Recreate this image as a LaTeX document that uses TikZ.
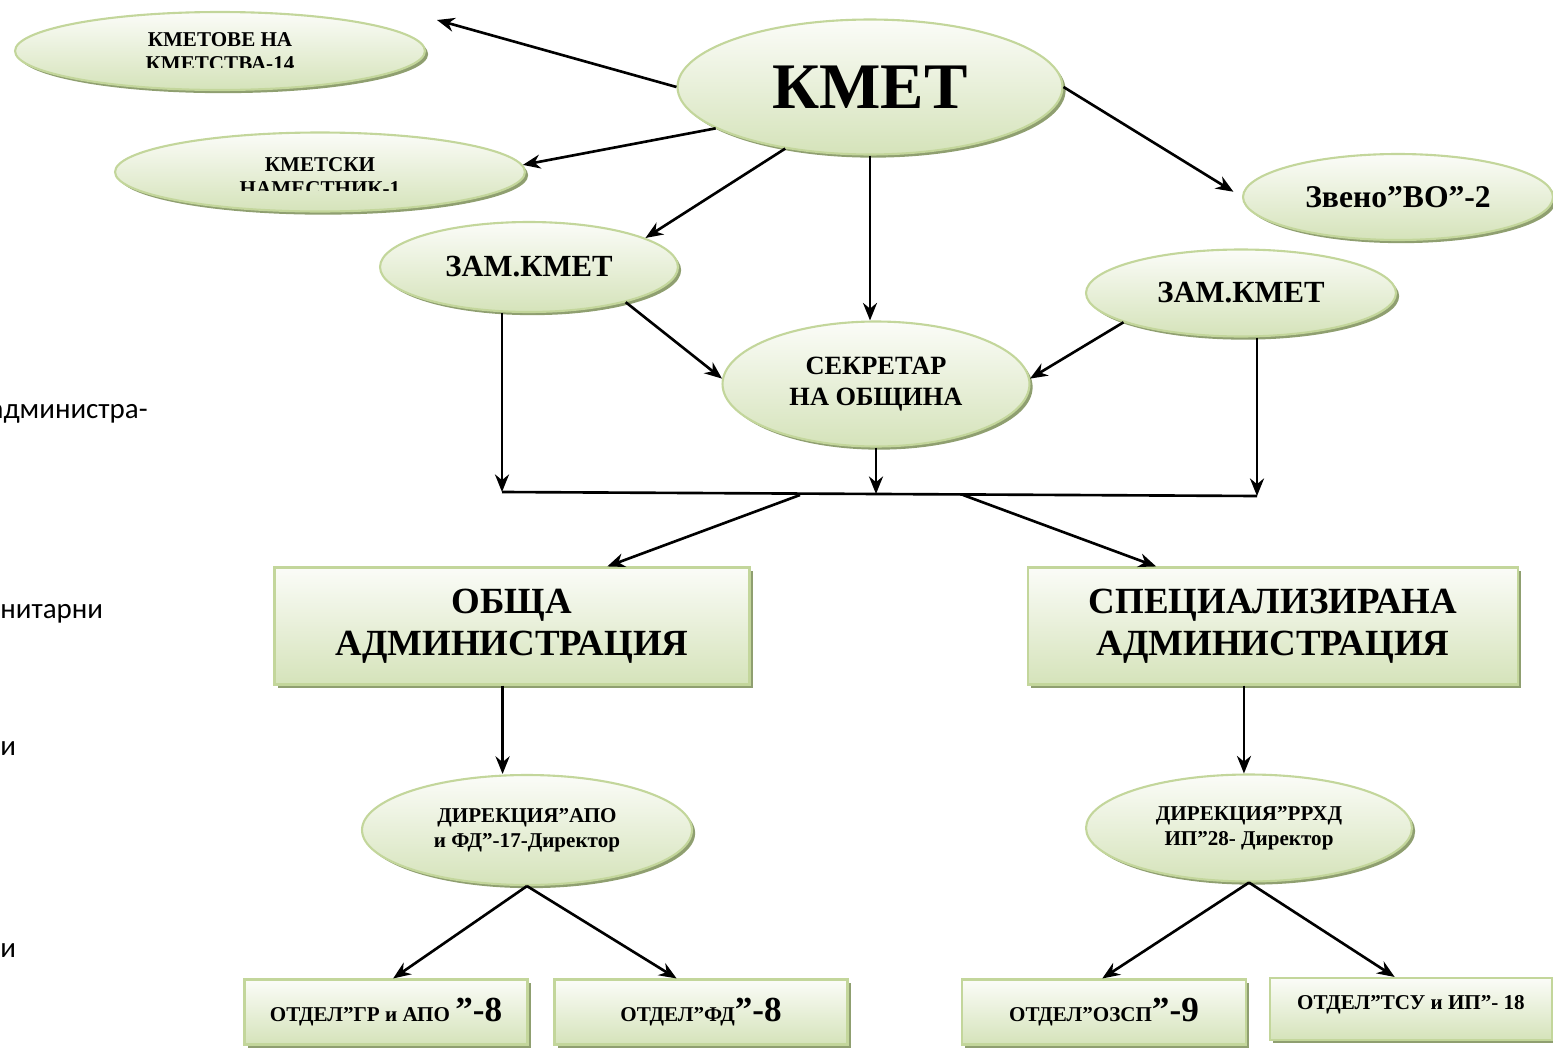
\documentclass[tikz,border=0pt]{standalone}
\usepackage{fontspec}
\setmainfont{Liberation Serif}
\newfontfamily\carlito{Carlito}
\usetikzlibrary{shapes.geometric,shadows,arrows.meta}
\definecolor{ovaltop}{HTML}{FBFCF8}
\definecolor{ovalmid}{HTML}{EEF4E2}
\definecolor{ovalbot}{HTML}{D5E3BA}
\definecolor{ovalline}{HTML}{C3D69B}
\definecolor{ovalshadow}{HTML}{8F9F70}
\newcommand{\boxfont}[2]{\fontsize{#1}{#2}\selectfont\bfseries}
\begin{document}
\begin{tikzpicture}[x=0.02cm,y=-0.02cm,>={Stealth[length=10pt,width=8pt]},
	greenfill/.style={draw=ovalline,line width=1.2pt,inner sep=0pt,
		top color=ovaltop,middle color=ovalmid,bottom color=ovalbot,
		drop shadow={shadow xshift=1.8pt,shadow yshift=-1.8pt,opacity=1,fill=ovalshadow}},
	oval/.style={ellipse,greenfill},
	rectbox/.style={rectangle,greenfill},
	link/.style={->,line width=1.5pt},
	side/.style={font=\carlito\fontsize{16.5}{19}\selectfont,inner sep=0pt}]
	\useasboundingbox (0,0) rectangle (1553,1048);
	\node[side,anchor=base east] (sideA) at (148,418) {администра-};
	\node[side,anchor=base west] (sideB) at (0,618) {нитарни};
	\node[side,anchor=base west] (sideC) at (0,755) {и};
	\node[side,anchor=base west] (sideD) at (0,957) {и};
	\node[oval,minimum width=7.7cm,minimum height=2.7cm,font=\boxfont{37}{40}] (kmet) at (870,87) {КМЕТ};
	\node[oval,minimum width=8.2cm,minimum height=1.56cm] (kmetove) at (220,51) {};
	\node[oval,minimum width=8.2cm,minimum height=1.58cm] (namestnik) at (320,172) {};
	\begin{scope}
		\clip (0,0) rectangle (560,67) (0,120) rectangle (560,190);
		\node[align=center,font=\boxfont{12}{13.6}] (kmetoveTxt) at (220,52) {КМЕТОВЕ НА\\КМЕТСТВА-14};
		\node[align=center,font=\boxfont{12}{13.6}] (namestnikTxt) at (320,177) {КМЕТСКИ\\НАМЕСТНИК-1};
	\end{scope}
	\node[oval,minimum width=6.2cm,minimum height=1.72cm,font=\boxfont{18}{20}] (zveno) at (1398,197) {Звено”ВО”-2};
	\node[oval,minimum width=5.96cm,minimum height=1.8cm,font=\boxfont{17.5}{20}] (zamL) at (529,267) {ЗАМ.КМЕТ};
	\node[oval,minimum width=6.2cm,minimum height=1.74cm,font=\boxfont{17.5}{20}] (zamR) at (1241,293) {ЗАМ.КМЕТ};
	\node[oval,minimum width=6.14cm,minimum height=2.5cm,align=center,font=\boxfont{15}{17.6}] (sekretar) at (876,384) {СЕКРЕТАР\\НА ОБЩИНА};
	\node[rectbox,minimum width=9.5cm,minimum height=2.34cm,align=center,font=\boxfont{21}{24}] (obshta) at (512,626) {ОБЩА\\АДМИНИСТРАЦИЯ};
	\node[rectbox,minimum width=9.8cm,minimum height=2.34cm,align=center,font=\boxfont{21}{24}] (spec) at (1273,626) {СПЕЦИАЛИЗИРАНА\\АДМИНИСТРАЦИЯ};
	\node[oval,minimum width=6.6cm,minimum height=2.2cm,align=center,font=\boxfont{12}{14.2}] (dirL) at (527,830) {ДИРЕКЦИЯ”АПО\\и ФД”-17-Директор};
	\node[oval,minimum width=6.52cm,minimum height=2.14cm,align=center,font=\boxfont{12}{14.2}] (dirR) at (1249,828) {ДИРЕКЦИЯ”РРХД\\ИП”28- Директор};
	\node[rectbox,minimum width=5.66cm,minimum height=1.3cm,font=\boxfont{12}{14}] (otdGR) at (386,1012) {ОТДЕЛ”ГР и АПО {\fontsize{20}{22}\selectfont ”-8}};
	\node[rectbox,minimum width=5.86cm,minimum height=1.3cm,font=\boxfont{12}{14}] (otdFD) at (701,1012) {ОТДЕЛ”ФД{\fontsize{20}{22}\selectfont ”-8}};
	\node[rectbox,minimum width=5.68cm,minimum height=1.3cm,font=\boxfont{12}{14}] (otdOZSP) at (1104,1012) {ОТДЕЛ”ОЗСП{\fontsize{20}{22}\selectfont ”-9}};
	\node[rectbox,minimum width=5.64cm,minimum height=1.24cm,font=\boxfont{12}{14}] (otdTSU) at (1411,1009) {\raisebox{7pt}{ОТДЕЛ”ТСУ и ИП”- 18}};
	\coordinate (kmetoveTip) at (437,20);
	\coordinate (busL) at (502,492);
	\coordinate (busM) at (876,494);
	\coordinate (busR) at (1257,496);
	\coordinate (busA) at (800,495);
	\coordinate (busB) at (963,495);
	\draw[link] (kmet.west) -- (kmetoveTip);
	\draw[link] (kmet.195) -- (namestnik.2);
	\draw[link] (kmet.216) -- (zamL.14);
	\draw[link] (kmet.south) -- (kmet.south |- sekretar.north);
	\draw[link,shorten >=0.2cm] (kmet.east) -- (zveno.west);
	\draw[link] (zamL.-20) -- (sekretar.178);
	\draw[link] (zamR.194) -- (sekretar.2);
	\draw[link] (busL |- zamL.south) -- (busL);
	\draw[link] (busR |- zamR.south) -- (busR);
	\draw[link] (sekretar.south) -- (busM);
	\draw[line width=1.5pt] (busL) -- (busR);
	\draw[link] (busA) -- (obshta.32);
	\draw[link] (busB) -- (spec.153);
	\draw[link] (obshta.261) -- (obshta.261 |- dirL.north);
	\draw[link] (spec.244) -- (spec.244 |- dirR.north);
	\draw[link] (dirL.south) -- (otdGR.78);
	\draw[link] (dirL.south) -- (otdFD.126);
	\draw[link] (dirR.south) -- (otdOZSP.93);
	\draw[link] (dirR.south) -- (otdTSU.117);
\end{tikzpicture}
\end{document}
